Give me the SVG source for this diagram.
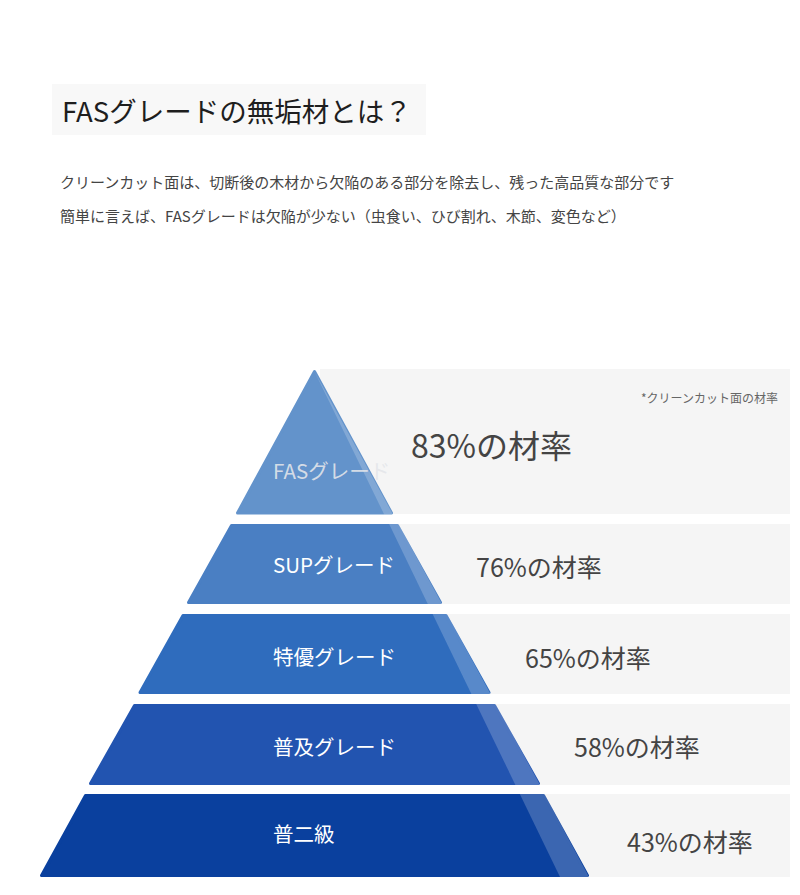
<svg xmlns="http://www.w3.org/2000/svg" width="800" height="895" viewBox="0 0 800 895">
  <style>
    .jp { font-family: "Noto Sans CJK JP", "Noto Sans", sans-serif; }
    .panel { fill: #f5f5f5; }
    .tier { stroke-width: 3; stroke-linejoin: round; }
    .strip { fill: #ffffff; fill-opacity: 0.2; }
    .label { fill: #ffffff; font-size: 20.5px; }
    .rate { fill: #444444; font-size: 25px; }
  </style>
  <rect width="800" height="895" fill="#ffffff"/>

  <g id="header">
    <rect x="52" y="84" width="374" height="51" fill="#f8f8f8"/>
    <text class="jp" x="62" y="122" font-size="27.5" fill="#1e1e1e">FASグレードの無垢材とは？</text>
    <text class="jp" x="60" y="188" font-size="15" fill="#444444">クリーンカット面は、切断後の木材から欠陥のある部分を除去し、残った高品質な部分です</text>
    <text class="jp" x="60" y="222" font-size="15" fill="#444444">簡単に言えば、FASグレードは欠陥が少ない（虫食い、ひび割れ、木節、変色など）</text>
  </g>

  <g id="panels">
    <rect class="panel" x="320" y="369" width="470" height="145"/>
    <rect class="panel" x="320" y="524" width="470" height="80"/>
    <rect class="panel" x="320" y="614" width="470" height="80"/>
    <rect class="panel" x="320" y="704" width="470" height="81"/>
    <rect class="panel" x="320" y="794" width="470" height="83"/>
  </g>

  <g id="tier-fas">
    <polygon class="tier" fill="#6393cb" stroke="#6393cb" points="314.5,371.5 391.5,513 237.5,513"/>
    <polygon class="strip" points="314.5,371.5 393,514.5 384.2,514.5"/>
    <text class="jp" x="273" y="479" font-size="20.5" fill="#e4e6ea" fill-opacity="0.9">FASグレード</text>
    <text class="jp" x="641" y="403" font-size="12" fill="#666666">*クリーンカット面の材率</text>
    <text class="jp" x="411" y="458" font-size="32" fill="#444444">83%の材率</text>
  </g>

  <g id="tier-sup">
    <polygon class="tier" fill="#4a7fc3" stroke="#4a7fc3" points="231.5,525.5 397.5,525.5 440.5,602.5 188.5,602.5"/>
    <polygon class="strip" points="389.1,524 398.5,524 442,604 427.8,604"/>
    <text class="jp label" x="273" y="573">SUPグレード</text>
    <text class="jp rate" x="476" y="577">76%の材率</text>
  </g>

  <g id="tier-tokuyu">
    <polygon class="tier" fill="#2f6cbd" stroke="#2f6cbd" points="183,615.5 446,615.5 489,692.5 140,692.5"/>
    <polygon class="strip" points="432.6,614 447,614 490.5,694 471.4,694"/>
    <text class="jp label" x="273" y="665">特優グレード</text>
    <text class="jp rate" x="525" y="668">65%の材率</text>
  </g>

  <g id="tier-fukyu">
    <polygon class="tier" fill="#2254b0" stroke="#2254b0" points="134.5,705.5 494.5,705.5 538.5,783.5 90.5,783.5"/>
    <polygon class="strip" points="476.2,704 495.8,704 540,785 515.4,785"/>
    <text class="jp label" x="273" y="755">普及グレード</text>
    <text class="jp rate" x="574" y="757">58%の材率</text>
  </g>

  <g id="tier-funi">
    <polygon class="tier" fill="#0a409e" stroke="#0a409e" points="85.5,795.5 543.5,795.5 587.5,875.5 41.5,875.5"/>
    <polygon class="strip" points="519.8,794 544.5,794 589,877 560,877"/>
    <text class="jp label" x="273" y="842">普二級</text>
    <text class="jp rate" x="627" y="852">43%の材率</text>
  </g>

  <g id="connectors"/>
</svg>
